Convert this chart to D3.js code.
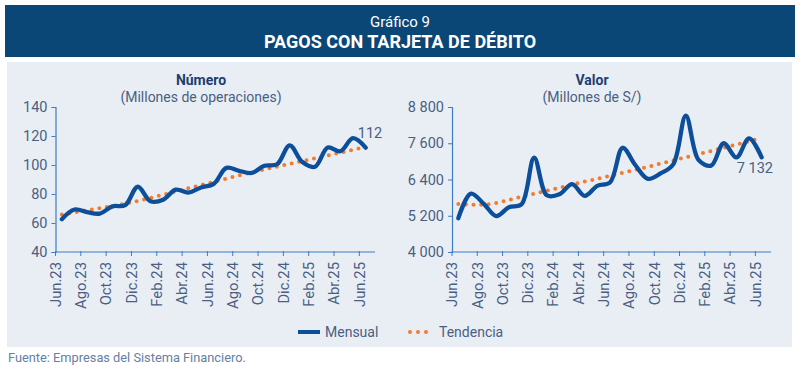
<!DOCTYPE html>
<html>
<head>
<meta charset="utf-8">
<script src="https://cdn.jsdelivr.net/npm/d3@7"></script>
<style>
  body { margin: 0; background: #fff; }
  svg { display: block; font-family: Roboto, "Noto Sans", sans-serif; }
</style>
</head>
<body>
<svg id="chart" width="800" height="372"></svg>
<script>
const months = ['Jun.23','Jul.23','Ago.23','Sep.23','Oct.23','Nov.23','Dic.23',
  'Ene.24','Feb.24','Mar.24','Abr.24','May.24','Jun.24','Jul.24','Ago.24','Sep.24',
  'Oct.24','Nov.24','Dic.24','Ene.25','Feb.25','Mar.25','Abr.25','May.25','Jun.25'];

const numeroMensual = [62.6, 69.3, 67.5, 66.5, 71.5, 72.3, 85, 75, 76, 83, 81, 84.5, 87,
  98, 96, 94.5, 99.5, 100.5, 113.5, 102, 98.8, 112, 109.5, 118.5, 112];
const numeroTendencia = [65.8, 67.3, 68.8, 70.2, 71.7, 73.3, 75.2, 77.3, 79.5, 81.8, 84.0,
  86.2, 88.4, 90.6, 92.8, 94.9, 96.9, 98.9, 100.8, 102.7, 104.6, 106.5, 108.5, 110.5, 112.5];

const valorMensual = [5120, 5930, 5600, 5190, 5480, 5580, 7120, 5880, 5910, 6250, 5860,
  6190, 6300, 7450, 6880, 6420, 6600, 6900, 8510, 7050, 6860, 7600, 7130, 7760, 7132];
const valorTendencia = [5590, 5565, 5560, 5620, 5720, 5830, 5930, 6030, 6130, 6230, 6330,
  6420, 6520, 6620, 6720, 6820, 6925, 7030, 7135, 7240, 7345, 7450, 7555, 7665, 7780];

const numeroTicks = [40, 60, 80, 100, 120, 140];
const valorTicks = [4000, 5200, 6400, 7600, 8800];

const navy = '#0a4676';
const lineBlue = '#0c4e99';
const orange = '#f37b2d';
const axisBlue = '#3d7cc6';
const textCol = '#4a5f82';

const fmt = d3.formatLocale({ decimal: ',', thousands: ' ', grouping: [3] }).format(',d');

const svg = d3.select('#chart');

// header
svg.append('rect').attr('x', 5).attr('y', 5).attr('width', 790).attr('height', 52).attr('fill', navy);
svg.append('text').attr('x', 400).attr('y', 27).attr('text-anchor', 'middle')
  .attr('fill', '#fff').attr('font-size', 15).text('Gráfico 9');
svg.append('text').attr('x', 400).attr('y', 48).attr('text-anchor', 'middle')
  .attr('fill', '#fff').attr('font-size', 18).attr('font-weight', 'bold')
  .text('PAGOS CON TARJETA DE DÉBITO');

// panel
svg.append('rect').attr('x', 7).attr('y', 62).attr('width', 785).attr('height', 285).attr('fill', '#e9eef5');

function drawPanel(opt) {
  const g = svg.append('g');
  const x = d3.scaleBand().domain(months).range([opt.x0, opt.x1]);
  const y = d3.scaleLinear().domain(opt.domain).range([252, 107]);
  const cx = d => x(d) + x.bandwidth() / 2;

  g.append('text').attr('x', opt.cx).attr('y', 85).attr('text-anchor', 'middle')
    .attr('fill', '#1d3f6e').attr('font-size', 14).attr('font-weight', 'bold').text(opt.title);
  g.append('text').attr('x', opt.cx).attr('y', 102).attr('text-anchor', 'middle')
    .attr('fill', textCol).attr('font-size', 14).text(opt.sub);

  // y axis
  const ya = g.append('g').attr('transform', `translate(${opt.x0},0)`)
    .call(d3.axisLeft(y).tickValues(opt.ticks).tickSize(4).tickPadding(4).tickFormat(opt.fmt));
  ya.select('.domain').attr('stroke', axisBlue).attr('stroke-width', 1.2);
  ya.selectAll('.tick line').attr('stroke', axisBlue);
  ya.selectAll('.tick text').attr('fill', textCol).attr('font-size', 14.5).attr('font-family', 'Roboto');

  // x axis
  const xa = g.append('g').attr('transform', 'translate(0,252)');
  xa.append('line').attr('x1', opt.x0).attr('x2', opt.x1 + 3).attr('stroke', axisBlue).attr('stroke-width', 1.2);
  const lab = months.filter((m, i) => i % 2 === 0);
  xa.selectAll('.xt').data(lab).enter().append('line')
    .attr('x1', d => x(d)).attr('x2', d => x(d)).attr('y1', -1).attr('y2', 4)
    .attr('stroke', axisBlue);
  xa.selectAll('.xl').data(lab).enter().append('text')
    .attr('transform', d => `translate(${x(d)},10) rotate(-90)`)
    .attr('text-anchor', 'end').attr('dy', '0.36em')
    .attr('fill', textCol).attr('font-size', 14.8).text(d => d);

  // trend
  const line = () => d3.line().x((d, i) => cx(months[i])).y(d => y(d));
  g.append('path').datum(opt.trend)
    .attr('d', line().curve(d3.curveLinear))
    .attr('fill', 'none').attr('stroke', orange).attr('stroke-width', 4)
    .attr('stroke-linecap', 'round').attr('stroke-dasharray', '0 7.6');

  // monthly
  g.append('path').datum(opt.values)
    .attr('d', line().curve(d3.curveCatmullRom.alpha(0.5)))
    .attr('fill', 'none').attr('stroke', lineBlue).attr('stroke-width', 4.3)
    .attr('stroke-linejoin', 'round').attr('stroke-linecap', 'round');

  // last value label
  const last = opt.values[opt.values.length - 1];
  g.append('text').attr('x', opt.labX).attr('y', opt.labY).attr('text-anchor', opt.labAnchor)
    .attr('fill', textCol).attr('font-size', 14.5).text(opt.fmt(last));
}

drawPanel({
  x0: 55.5, x1: 372, domain: [40, 140], ticks: numeroTicks, fmt: d3.format('d'),
  values: numeroMensual, trend: numeroTendencia, title: 'Número',
  sub: '(Millones de operaciones)', cx: 201, labX: 370, labY: 138, labAnchor: 'middle'
});
drawPanel({
  x0: 452, x1: 768, domain: [4000, 8800], ticks: valorTicks, fmt: fmt,
  values: valorMensual, trend: valorTendencia, title: 'Valor',
  sub: '(Millones de S/)', cx: 592, labX: 773, labY: 173, labAnchor: 'end'
});

// legend
const leg = svg.append('g');
leg.append('line').attr('x1', 298).attr('x2', 320).attr('y1', 332).attr('y2', 332)
  .attr('stroke', lineBlue).attr('stroke-width', 4);
leg.append('text').attr('x', 325).attr('y', 337).attr('fill', textCol).attr('font-size', 14).text('Mensual');
leg.append('line').attr('x1', 410).attr('x2', 434).attr('y1', 332).attr('y2', 332)
  .attr('stroke', orange).attr('stroke-width', 4).attr('stroke-linecap', 'round')
  .attr('stroke-dasharray', '0 8');
leg.append('text').attr('x', 439).attr('y', 337).attr('fill', textCol).attr('font-size', 14).text('Tendencia');

// source
svg.append('text').attr('x', 8).attr('y', 362).attr('fill', '#6580a6').attr('font-size', 12.8)
  .text('Fuente: Empresas del Sistema Financiero.');
</script>
</body>
</html>
